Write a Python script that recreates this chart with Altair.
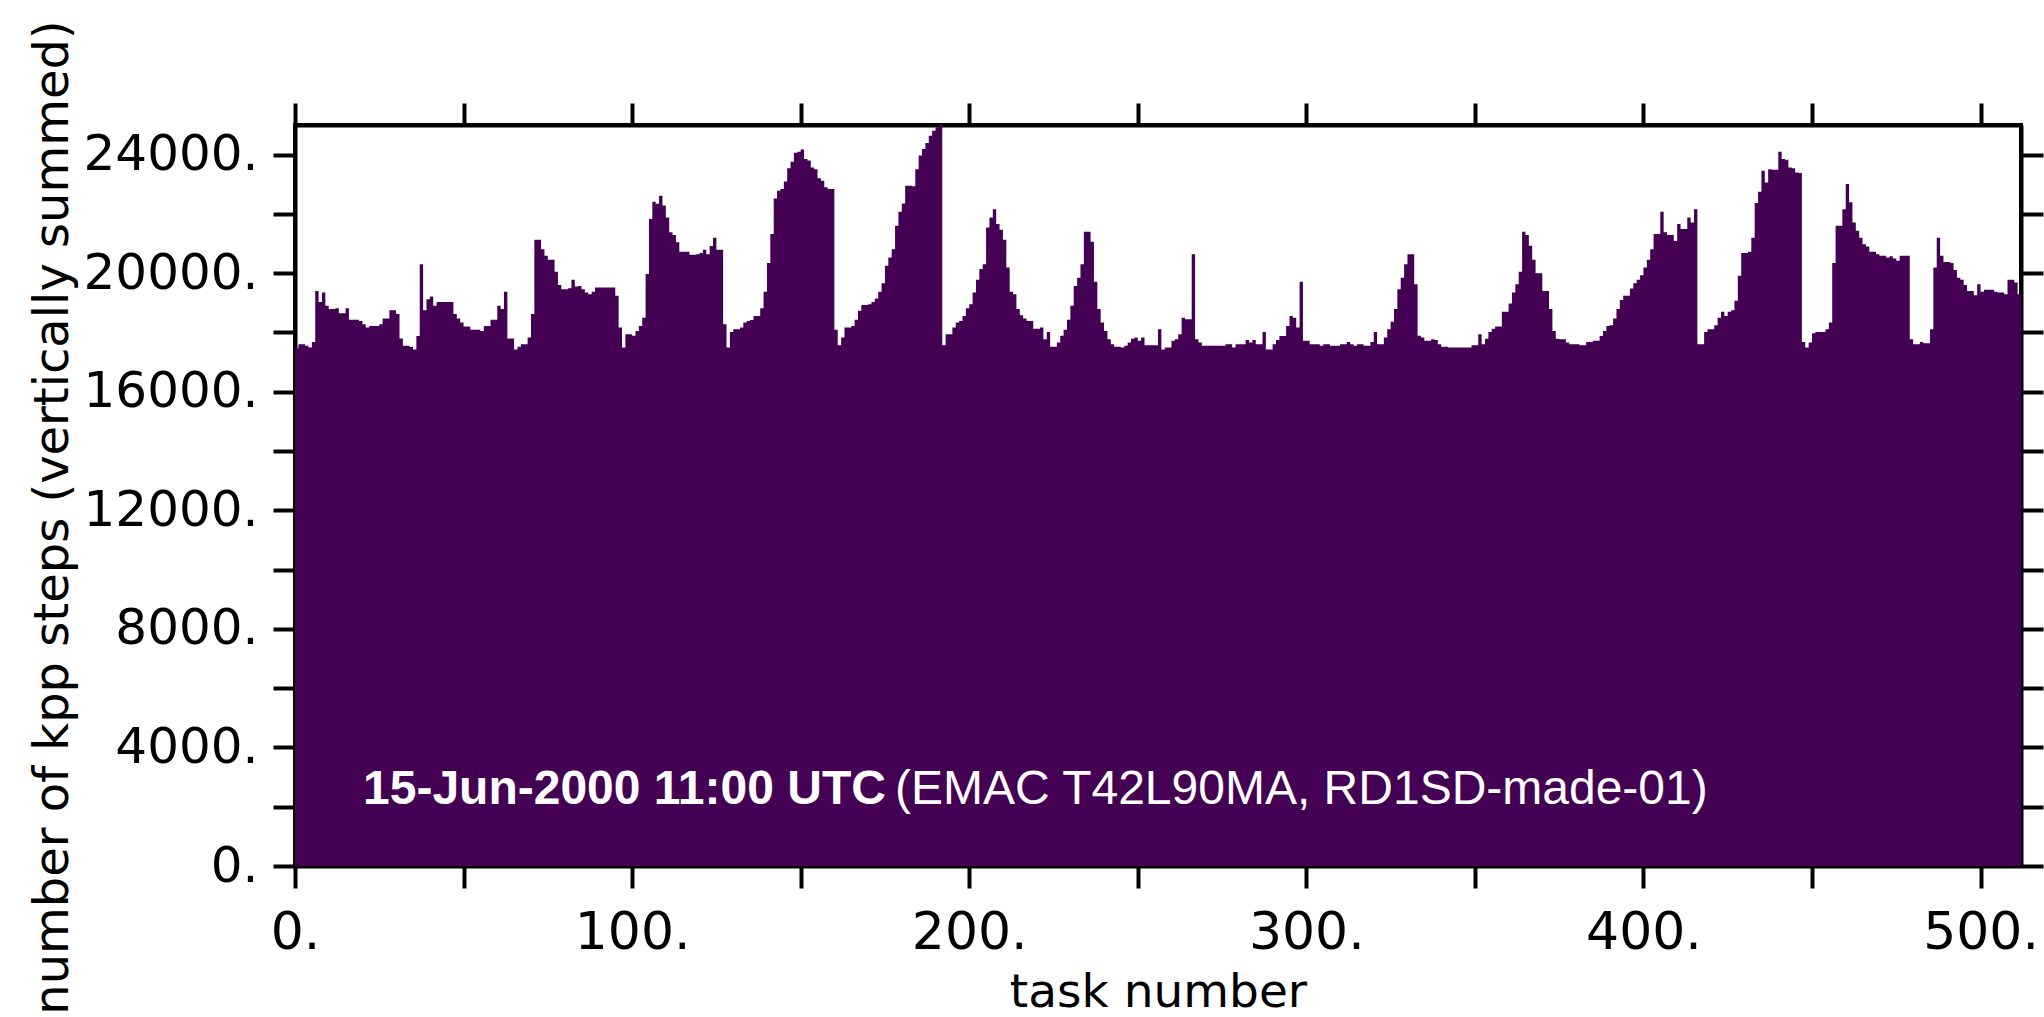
import altair as alt
import pandas as pd

# ---- data (number of kpp steps per task, 512 tasks) ----
steps_000_083 = [
    17460, 17600, 17600, 17550, 17490, 17680, 19400, 19030, 19350, 18900,
    18790, 18790, 18820, 18650, 18650, 18820, 18430, 18430, 18430, 18390,
    18280, 18170, 18220, 18220, 18220, 18280, 18470, 18470, 18750, 18750,
    18620, 17800, 17550, 17550, 17510, 17430, 17880, 20300, 18750, 19120,
    19210, 18900, 19030, 19030, 19030, 19030, 19030, 18620, 18470, 18340,
    18200, 18200, 18090, 18090, 18090, 18050, 18220, 18220, 18430, 18430,
    18900, 18790, 19370, 17800, 17800, 17430, 17520, 17600, 17600, 17830,
    18620, 21130, 21130, 20810, 20590, 20450, 20450, 20050, 19600, 19460,
    19460, 19490, 19780, 19550,
]
steps_084_169 = [
    19570, 19460, 19350, 19290, 19370, 19520, 19520, 19520, 19520, 19520,
    19520, 19240, 18170, 17490, 17940, 17940, 17890, 18050, 18220, 18500,
    19970, 21830, 22410, 22340, 22610, 22280, 21880, 21380, 21290, 21040,
    20720, 20720, 20720, 20620, 20620, 20640, 20680, 20790, 20640, 20920,
    21200, 20790, 20790, 18280, 17490, 18020, 18110, 18110, 18170, 18340,
    18390, 18420, 18560, 18560, 18820, 19370, 20340, 21320, 22520, 22780,
    22840, 23090, 23540, 23760, 24060, 24100, 24170, 23850, 23800, 23570,
    23510, 23200, 23120, 22900, 22840, 22840, 18090, 17570, 17830, 18170,
    18170, 18220, 18430, 18730, 18930, 18930,
]
steps_170_255 = [
    18950, 19030, 19150, 19370, 19660, 20250, 20530, 20810, 21600, 22070,
    22350, 22950, 22950, 22930, 23510, 23970, 24190, 24390, 24640, 24810,
    24920, 25000, 17570, 17940, 17940, 18170, 18340, 18390, 18560, 18820,
    18950, 19350, 19780, 20140, 20300, 21540, 21880, 22160, 21660, 21470,
    21130, 20190, 19370, 19290, 18790, 18580, 18470, 18390, 18390, 18130,
    18130, 18170, 17770, 18020, 17520, 17520, 17660, 17890, 18090, 18430,
    18900, 19570, 19850, 20300, 21400, 21400, 21060, 19710, 18790, 18340,
    18050, 17770, 17600, 17520, 17520, 17490, 17550, 17660, 17790, 17830,
    17720, 17830, 17570, 17570, 17570, 17570,
]
steps_256_341 = [
    18110, 17430, 17490, 17490, 17720, 17770, 17940, 18500, 18450, 18450,
    20640, 17770, 17660, 17550, 17550, 17550, 17550, 17550, 17550, 17550,
    17600, 17600, 17490, 17600, 17600, 17600, 17750, 17660, 17750, 17600,
    17600, 18020, 17430, 17430, 17600, 17750, 17880, 17880, 18220, 18560,
    18500, 18170, 19710, 17720, 17720, 17600, 17600, 17600, 17550, 17600,
    17600, 17550, 17550, 17550, 17600, 17600, 17680, 17600, 17550, 17600,
    17600, 17550, 17550, 17680, 18020, 17600, 17600, 17830, 18110, 18360,
    18790, 19460, 19850, 20300, 20640, 20640, 19630, 17890, 17830, 17720,
    17720, 17770, 17750, 17600, 17520, 17520,
]
steps_342_427 = [
    17490, 17490, 17490, 17490, 17490, 17490, 17490, 17570, 17570, 17940,
    17600, 17790, 18020, 18130, 18200, 18200, 18700, 18700, 18980, 19350,
    19630, 20050, 21400, 21290, 20930, 20450, 20000, 20000, 19400, 19400,
    18790, 18050, 17790, 17770, 17770, 17660, 17600, 17600, 17600, 17570,
    17570, 17680, 17680, 17720, 17720, 17880, 18050, 18220, 18240, 18470,
    18790, 19100, 19240, 19240, 19480, 19660, 19780, 19930, 20190, 20450,
    20810, 21320, 21320, 22070, 21380, 21290, 21290, 21090, 21660, 21490,
    21490, 21880, 21710, 22160, 17600, 17600, 18020, 18110, 18110, 18240,
    18500, 18700, 18560, 18700, 18750, 19070,
]
steps_428_511 = [
    19910, 20680, 20680, 20720, 21200, 22370, 22750, 23460, 23060, 23510,
    23490, 23490, 24100, 23850, 23830, 23570, 23540, 23400, 23380, 17680,
    17490, 17660, 17970, 18020, 18020, 18020, 18110, 18340, 20340, 21600,
    21600, 22160, 23010, 22390, 21710, 21430, 21200, 20980, 20900, 20720,
    20720, 20640, 20590, 20590, 20530, 20570, 20500, 20420, 20590, 20590,
    20590, 17770, 17600, 17600, 17680, 17640, 17640, 18110, 20190, 21200,
    20590, 20380, 20380, 20340, 20110, 19850, 19780, 19600, 19400, 19400,
    19260, 19630, 19370, 19440, 19440, 19440, 19370, 19350, 19350, 19290,
    19780, 19780, 19690, 19290,
]
steps = (steps_000_083 + steps_084_169 + steps_170_255
         + steps_256_341 + steps_342_427 + steps_428_511)
tasks = list(range(len(steps)))

x_tick_values = list(range(0, 501, 50))
y_tick_values = list(range(0, 24001, 2000))
x_domain = [0, 512]
y_domain = [0, 25000]

x_title = "task number"
y_title = "number of kpp steps (vertically summed)"
annotation_bold = ["15-Jun-2000 11:00 UTC"]
annotation_rest = ["(EMAC T42L90MA, RD1SD-made-01)"]

# ---- chart ----
FILL = "#440154"
AXFONT = "DejaVu Sans"
W, H = 1726, 741

df = pd.DataFrame({"task": tasks, "steps": steps})
# step-after area: each task's value holds from task to task+1, so the last
# step is closed by repeating the final value at the end of the last task
df_area = pd.concat(
    [df, pd.DataFrame({"task": [len(steps)], "steps": [steps[-1]]})],
    ignore_index=True,
)

xscale = alt.Scale(domain=x_domain, nice=False, zero=False)
yscale = alt.Scale(domain=y_domain, nice=False)

common_axis = dict(
    domainColor="black", domainWidth=4, tickColor="black", tickWidth=4,
    tickSize=22, grid=False, labelFont=AXFONT,
    labelColor="black", labelOverlap=False, labelFlush=False, labelBound=False,
    titleFont=AXFONT, titleFontWeight="normal", titleColor="black",
)

bars = alt.Chart(df_area).mark_area(
    color=FILL, interpolate="step-after", opacity=1
).encode(
    x=alt.X("task:Q", scale=xscale, axis=alt.Axis(
        orient="bottom", values=x_tick_values,
        labelExpr="datum.value % 100 == 0 ? datum.value + '.' : ''",
        labelFontSize=52, labelPadding=19, title=x_title, titleFontSize=47,
        titleX=W / 2, titleY=140, titleBaseline="alphabetic", titleAlign="center",
        **common_axis)),
    y=alt.Y("steps:Q", scale=yscale, axis=alt.Axis(
        orient="left", values=y_tick_values,
        labelExpr="datum.value % 4000 == 0 ? datum.value + '.' : ''",
        labelFontSize=50, labelPadding=15, title=y_title, titleAngle=270,
        titleFontSize=48,
        titleX=-228, titleY=392, titleBaseline="alphabetic", titleAlign="center",
        **common_axis)),
)

opposite_axes = alt.Chart(df).mark_point(opacity=0).encode(
    x=alt.X("task:Q", scale=xscale, axis=alt.Axis(
        orient="top", values=x_tick_values, labels=False, title=None, **common_axis)),
    y=alt.Y("steps:Q", scale=yscale, axis=alt.Axis(
        orient="right", values=y_tick_values, labels=False, title=None, **common_axis)),
)

text_bold = alt.Chart(pd.DataFrame({"label": annotation_bold})).mark_text(
    align="left", baseline="alphabetic", font="Liberation Sans", fontSize=48,
    fontWeight="bold", color="white",
).encode(x=alt.value(68), y=alt.value(679), text="label:N")

text_rest = alt.Chart(pd.DataFrame({"label": annotation_rest})).mark_text(
    align="left", baseline="alphabetic", font="Liberation Sans", fontSize=48,
    fontWeight="normal", color="white",
).encode(x=alt.value(600), y=alt.value(679), text="label:N")

chart = alt.layer(bars, opposite_axes, text_bold, text_rest).resolve_scale(
    x="shared", y="shared"
).resolve_axis(
    x="independent", y="independent"
).properties(
    width=W, height=H,
    autosize=alt.AutoSizeParams(type="none"),
    padding={"left": 295, "top": 125, "right": 23, "bottom": 151},
    background="white",
).configure_view(stroke="black", strokeWidth=4)

chart.save("out.html", embed_options={"renderer": "svg", "actions": False})
